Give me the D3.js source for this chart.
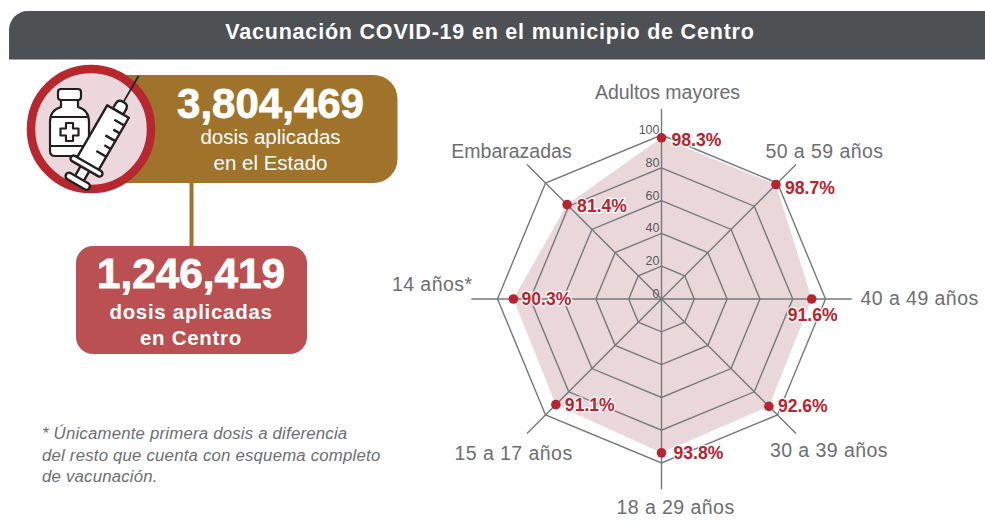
<!DOCTYPE html>
<html><head><meta charset="utf-8">
<script src="https://cdn.jsdelivr.net/npm/d3@7/dist/d3.min.js"></script>
<style>html,body{margin:0;background:#fff}svg{display:block}text{font-family:"Liberation Sans",Arial,sans-serif}</style>
</head><body><svg id="c" width="985" height="531"></svg>
<script>
const categories=["Adultos mayores","50 a 59 años","40 a 49 años","30 a 39 años","18 a 29 años","15 a 17 años","14 años*","Embarazadas"];
const values=[98.3,98.7,91.6,92.6,93.8,91.1,90.3,81.4];
const ticks=[0,20,40,60,80,100];
const title="Vacunación COVID-19 en el municipio de Centro";
const stateTotal="3,804,469",stateLines=["dosis aplicadas","en el Estado"];
const localTotal="1,246,419",localLines=["dosis aplicadas","en Centro"];
const noteLines=["* Únicamente primera dosis a diferencia","del resto que cuenta con esquema completo","de vacunación."];
const labelPos=[[6,-200,"middle"],[163,-141,"middle"],[199,6,"start"],[167.5,158,"middle"],[14,215,"middle"],[-148,161,"middle"],[-189,-8,"end"],[-150,-141,"middle"]];
const valueOff=[[10,8,"start"],[9,9,"start"],[-24,22,"start"],[9,6,"start"],[12,6,"start"],[9,6,"start"],[8,6,"start"],[10,7,"start"]];

const svg=d3.select("#c");
svg.append("path").attr("d","M9 59.5V30a19 19 0 0 1 19-19H985V59.5Z").attr("fill","#4d5154");
svg.append("text").attr("x",490).attr("y",39).attr("text-anchor","middle").attr("fill","#fff").attr("font-size",21.5).attr("font-weight",700).attr("letter-spacing",0.8).text(title);

svg.append("rect").attr("x",189.5).attr("y",170).attr("width",4).attr("height",85).attr("fill","#9f732a");
svg.append("rect").attr("x",90).attr("y",75).attr("width",307.5).attr("height",108).attr("rx",24).attr("fill","#9f732a");
svg.append("rect").attr("x",76).attr("y",246).attr("width",231).attr("height",108).attr("rx",17).attr("fill","#bb5052");
const T=(x,y,s,fs,w,col)=>svg.append("text").attr("x",x).attr("y",y).attr("text-anchor","middle").attr("fill",col||"#fff").attr("font-size",fs).attr("font-weight",w).text(s);
T(270.5,118,stateTotal,42,700).attr("stroke","#fff").attr("stroke-width",.8);
stateLines.forEach((s,i)=>T(270.5,144+i*25.5,s,20.5,400));
T(191,288,localTotal,42.3,700).attr("stroke","#fff").attr("stroke-width",.8);
localLines.forEach((s,i)=>T(191,319+i*26,s,20.5,700).attr("letter-spacing",0.7));

const ic=svg.append("g");
ic.append("circle").attr("cx",91).attr("cy",129).attr("r",60).attr("fill","#ecd8dc").attr("stroke","#b7282e").attr("stroke-width",8.5);
const ink="#231f20";
const v=ic.append("g").attr("fill","#fff").attr("stroke",ink).attr("stroke-width",2.2).attr("stroke-linejoin","round");
v.append("rect").attr("x",58).attr("y",89).attr("width",23).attr("height",11).attr("rx",3);
v.append("path").attr("d","M61 100v7q-11 3-11 15v29q0 5 5 5h29q5 0 5-5v-29q0-12-11-15v-7Z");
v.append("path").attr("d","M50 117H89M50 146H89").attr("fill","none");
v.append("path").attr("d","M66 123h7v5.500h5.500v7h-5.500v5.500h-7v-5.500h-5.500v-7h5.500Z");
const sy=ic.append("g").attr("transform","translate(118,111.5) rotate(30)").attr("fill","#fff").attr("stroke",ink).attr("stroke-width",2.4).attr("stroke-linejoin","round");
sy.append("path").attr("d","M0 -10V-41").attr("stroke-width",1.8);
sy.append("path").attr("d","M-6 0V-6q0-5 6-5t6 5V0Z");
sy.append("path").attr("d","M-12.500 0H12.500V62H-12.500Z");
sy.append("path").attr("d","M-5 64H5V78H-5Z");
sy.append("rect").attr("x",-18).attr("y",60).attr("width",36).attr("height",6).attr("rx",3);
sy.append("rect").attr("x",-13.500).attr("y",77).attr("width",27).attr("height",7).attr("rx",3.500);
sy.append("path").attr("fill","none").attr("d","M12.500 9H1M12.500 18H5M12.500 27H1M12.500 36H5M12.500 45H1");

noteLines.forEach((s,i)=>svg.append("text").attr("x",42).attr("y",439+i*21.5).attr("fill","#6d6e71").attr("font-size",16.8).attr("font-style","italic").attr("letter-spacing",0.2).text(s));

const cx=661.5,cy=299;
const r=d3.scaleLinear().domain([0,100]).range([0,164]);
const ang=d3.scalePoint().domain(categories).range([0,2*Math.PI*7/8]);
const g=svg.append("g").attr("transform",`translate(${cx},${cy})`);
const radial=d3.lineRadial().angle(d=>ang(d.c)).radius(d=>r(d.v)).curve(d3.curveLinearClosed);
g.append("path").datum(categories.map((c,i)=>({c,v:values[i]}))).attr("d",radial).attr("fill","#ead7da");
const grey="#77787b";
ticks.slice(1).forEach(t=>g.append("path").datum(categories.map(c=>({c,v:t}))).attr("d",radial).attr("fill","none").attr("stroke",grey).attr("stroke-width",1.4));
const pt=(c,rad)=>d3.pointRadial(ang(c),rad);
categories.forEach(c=>{const p=pt(c,r(116));g.append("line").attr("x2",p[0]).attr("y2",p[1]).attr("stroke",grey).attr("stroke-width",1.4);});
ticks.forEach(t=>g.append("text").attr("x",-2).attr("y",-r(t)-1).attr("text-anchor","end").attr("font-size",12.5).attr("fill","#58595b").text(t));
categories.forEach((c,i)=>{const p=pt(c,r(values[i]));
 g.append("circle").attr("cx",p[0]).attr("cy",p[1]).attr("r",4.8).attr("fill","#b7232e");
 const o=valueOff[i];
 g.append("text").attr("x",p[0]+o[0]).attr("y",p[1]+o[1]).attr("text-anchor",o[2]).attr("font-size",17.6).attr("font-weight",700).attr("fill","#b7232e").attr("stroke","#fff").attr("stroke-width",2.5).attr("paint-order","stroke").text(values[i].toFixed(1)+"%");
 const l=labelPos[i];
 g.append("text").attr("x",l[0]).attr("y",l[1]).attr("text-anchor",l[2]).attr("font-size",19.5).attr("letter-spacing",/\d/.test(c)?0.45:0).attr("fill","#6d6e71").text(c);
});
</script></body></html>
